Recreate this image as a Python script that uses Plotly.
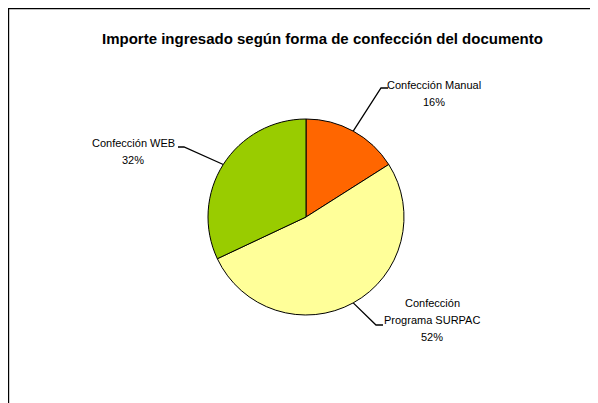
import math
import plotly.graph_objects as go

# ---- data ----
label_lines = [["Confección Manual"], ["Confección", "Programa SURPAC"], ["Confección WEB"]]
values = [16, 52, 32]
colors = ["#FF6600", "#FFFF99", "#99CC00"]
title = "Importe ingresado según forma de confección del documento"

W, H = 598, 403
OFF = 8  # page body offset
FONT = "Liberation Sans, Arial, sans-serif"

# pie geometry (page pixels)
cx, cy, r = 306, 217, 98

def px(x):
    return (x - OFF) / W

def py(y):
    return 1 - (y - OFF) / H

fig = go.Figure(go.Pie(
    labels=[" ".join(l) for l in label_lines], values=values, sort=False,
    direction="clockwise", rotation=0,
    marker=dict(colors=colors, line=dict(color="black", width=1)),
    textinfo="none", hoverinfo="label+percent", showlegend=False,
    domain=dict(x=[px(cx - r), px(cx + r)], y=[py(cy + r), py(cy - r)]),
))

# label placement (style): text center x, first line y, elbow, line end
label_layout = [
    dict(tx=434, ty=85, elbow=(381, 88), end=(388, 88)),
    dict(tx=432, ty=303, elbow=(376, 325), end=(383, 325)),
    dict(tx=133, ty=143, elbow=(184, 147), end=(178, 147)),
]
LINE_H = 17

total = sum(values)
cum = 0
shapes = []
annotations = []
for lines, v, lay in zip(label_lines, values, label_layout):
    mid = (cum + v / 2) / total * 2 * math.pi
    cum += v
    ex = cx + r * math.sin(mid)
    ey = cy - r * math.cos(mid)
    pct = round(v / total * 100)
    path = "M {} {} L {} {} L {} {}".format(
        px(ex), py(ey), px(lay["elbow"][0]), py(lay["elbow"][1]),
        px(lay["end"][0]), py(lay["end"][1]))
    shapes.append(dict(type="path", xref="paper", yref="paper", path=path,
                       line=dict(color="black", width=1.3)))
    for i, t in enumerate(lines + [f"{pct}%"]):
        annotations.append(dict(
            x=px(lay["tx"]), y=py(lay["ty"] + i * LINE_H), xref="paper", yref="paper",
            text=t, showarrow=False, xanchor="center", yanchor="middle",
            font=dict(family=FONT, size=11, color="black")))

# outer border
shapes.append(dict(type="rect", xref="paper", yref="paper",
                   x0=0.001, x1=0.999, y0=0.001, y1=0.9985,
                   line=dict(color="black", width=1.2), layer="above"))

annotations.append(dict(
    x=px(322), y=py(38), xref="paper", yref="paper", text=f"<b>{title}</b>",
    showarrow=False, xanchor="center", yanchor="middle",
    font=dict(family=FONT, size=15, color="black")))

fig.update_layout(
    width=W, height=H, margin=dict(l=0, r=0, t=0, b=0),
    paper_bgcolor="white", plot_bgcolor="white",
    shapes=shapes, annotations=annotations,
)

fig.write_html("out.html")
